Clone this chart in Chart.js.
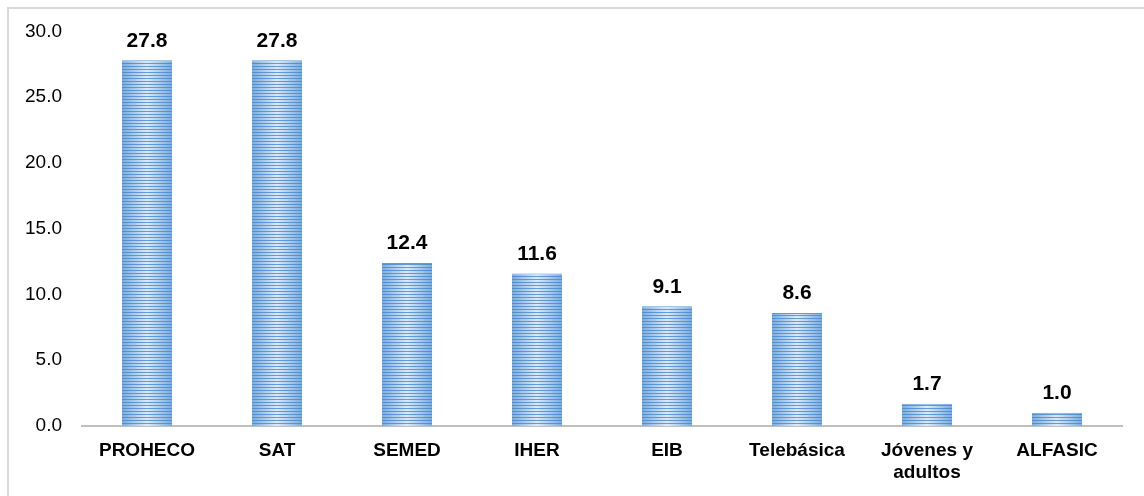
<!DOCTYPE html>
<html>
<head>
<meta charset="utf-8">
<script src="https://cdn.jsdelivr.net/npm/chart.js@4"></script>
<style>
  html, body { margin: 0; padding: 0; background: #fff; overflow: hidden; }
  #wrap { position: relative; width: 1144px; height: 496px; overflow: hidden; }
  #frame { position: absolute; left: 7px; top: 7px; width: 1160px; height: 520px; border: 2px solid #d9d9d9; box-sizing: border-box; }
  canvas { position: absolute; left: 0; top: 0; }
</style>
</head>
<body>
<div id="wrap">
  <div id="frame"></div>
  <canvas id="grafica" width="1144" height="496"></canvas>
</div>
<script>
/* Porcentaje por programa, barras con rayado horizontal */

const categorias = ["PROHECO", "SAT", "SEMED", "IHER", "EIB", "Telebásica", ["Jóvenes y", "adultos"], "ALFASIC"];
const valores = [27.8, 27.8, 12.4, 11.6, 9.1, 8.6, 1.7, 1.0];
const ticksY = [0, 5, 10, 15, 20, 25, 30];

const BAR_PCT = 0.385;
const FUENTE = "'Liberation Sans', Arial, sans-serif";

// Relleno rayado con degradado horizontal, alineado a cada barra
function rellenoBarra(ctx) {
  const chart = ctx.chart;
  const xs = chart.scales.x;
  if (!chart.chartArea || !xs) return "#9dc3e6";
  const w = Math.max(2, Math.round(xs.width / categorias.length * BAR_PCT));
  const cx = xs.getPixelForValue(ctx.dataIndex);
  const c = document.createElement("canvas");
  c.width = w; c.height = 3;
  const g = c.getContext("2d");
  const grad = g.createLinearGradient(0, 0, w, 0);
  grad.addColorStop(0, "#7aaddf");
  grad.addColorStop(0.5, "#dce9f7");
  grad.addColorStop(1, "#7aaddf");
  g.fillStyle = grad;
  g.fillRect(0, 0, w, 3);
  g.fillStyle = "rgba(70,135,205,0.8)";
  g.fillRect(0, 0, w, 1);
  const pat = chart.ctx.createPattern(c, "repeat");
  pat.setTransform(new DOMMatrix([1, 0, 0, 1, cx - w / 2, 0]));
  return pat;
}

const etiquetas = {
  id: "etiquetas",
  afterDatasetsDraw(chart) {
    const ctx = chart.ctx;
    const meta = chart.getDatasetMeta(0);
    ctx.save();
    ctx.font = "bold 21px " + FUENTE;
    ctx.fillStyle = "#000";
    ctx.textAlign = "center";
    ctx.textBaseline = "bottom";
    meta.data.forEach((bar, i) => {
      ctx.fillText(valores[i].toFixed(1), bar.x, bar.y - 9);
    });
    ctx.restore();
  },
};

new Chart(document.getElementById("grafica"), {
  type: "bar",
  data: {
    labels: categorias,
    datasets: [{
      data: valores,
      backgroundColor: rellenoBarra,
      borderColor: "#5b9bd5",
      borderWidth: { top: 1, left: 0, right: 0, bottom: 0 },
      barPercentage: BAR_PCT,
      categoryPercentage: 1,
    }],
  },
  options: {
    responsive: false,
    animation: false,
    layout: { padding: { top: 28, right: 22, bottom: 0, left: 0 } },
    plugins: { legend: { display: false }, tooltip: { enabled: false } },
    scales: {
      y: {
        min: 0,
        max: 30,
        afterBuildTicks: (s) => { s.ticks = ticksY.map((v) => ({ value: v })); },
        afterFit: (s) => { s.width = 82; },
        ticks: {
          padding: 20,
          color: "#000",
          font: { family: FUENTE, size: 19 },
          callback: (v) => Number(v).toFixed(1),
        },
        grid: { display: false, drawTicks: false },
        border: { display: false },
      },
      x: {
        afterFit: (s) => { s.height = 70; },
        ticks: {
          padding: 14,
          color: "#000",
          maxRotation: 0,
          font: { family: FUENTE, size: 19, weight: "bold", lineHeight: 1.15 },
        },
        grid: { display: false, drawTicks: false },
        border: { color: "#bfbfbf", width: 2 },
      },
    },
  },
  plugins: [etiquetas],
});
</script>
</body>
</html>
